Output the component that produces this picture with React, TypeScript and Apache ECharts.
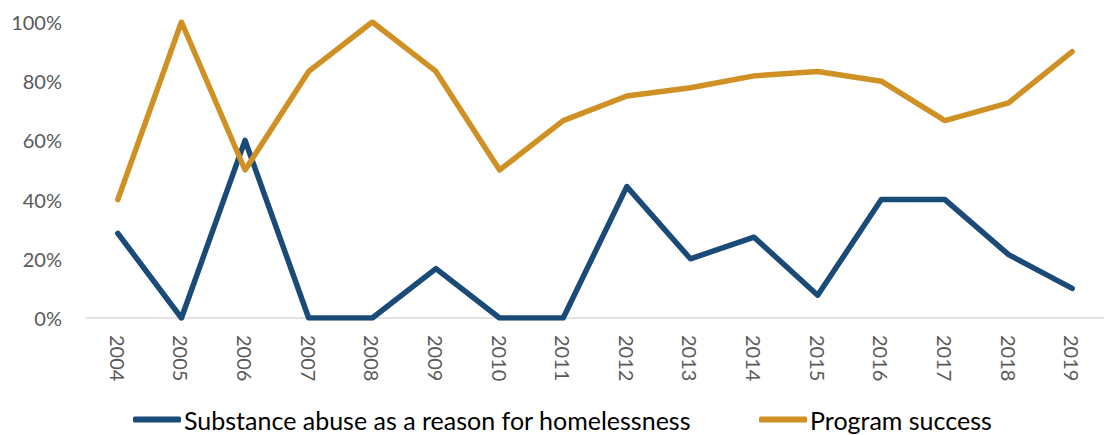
import React, { useEffect, useRef } from "react";
import * as echarts from "echarts";

const years = ["2004", "2005", "2006", "2007", "2008", "2009", "2010", "2011", "2012", "2013", "2014", "2015", "2016", "2017", "2018", "2019"];
const substanceAbuse = [28.6, 0, 60, 0, 0, 16.7, 0, 0, 44.4, 20, 27.3, 7.7, 40, 40, 21.4, 10];
const programSuccess = [40, 100, 50, 83.3, 100, 83.3, 50, 66.7, 75, 77.8, 81.8, 83.3, 80, 66.7, 72.7, 90];
const yTicks = [0, 20, 40, 60, 80, 100];

const FONT = "Lato";

export default function App() {
  const ref = useRef<HTMLDivElement>(null);
  useEffect(() => {
    if (!ref.current) return;
    const chart = echarts.init(ref.current, undefined, { renderer: "svg" });
    chart.setOption({
      animation: false,
      backgroundColor: "#ffffff",
      textStyle: { fontFamily: FONT },
      grid: { left: 86, top: 22, width: 1021, bottom: 117, containLabel: false },
      legend: {
        bottom: 3,
        left: 133,
        padding: 0,
        itemWidth: 48,
        itemHeight: 6,
        itemGap: 68,
        icon: "roundRect",
        textStyle: { fontFamily: FONT, fontSize: 25, color: "#000000", padding: [0, 0, 0, -2] },
        data: ["Substance abuse as a reason for homelessness", "Program success"],
      },
      xAxis: {
        type: "category",
        data: years,
        boundaryGap: true,
        axisLine: { show: true, lineStyle: { color: "#d9d9d9", width: 1.5 } },
        axisTick: { show: false },
        axisLabel: { rotate: -90, margin: 17, fontSize: 20, color: "#595959", fontFamily: FONT },
      },
      yAxis: {
        type: "value",
        min: yTicks[0],
        max: yTicks[yTicks.length - 1],
        interval: 20,
        splitLine: { show: false },
        axisLine: { show: false },
        axisTick: { show: false },
        axisLabel: { margin: 24, fontSize: 20, color: "#595959", fontFamily: FONT, formatter: (v: number) => v + "%" },
      },
      series: [
        {
          name: "Substance abuse as a reason for homelessness",
          type: "line",
          data: substanceAbuse,
          symbol: "none",
          color: "#1a4a78",
          lineStyle: { width: 5.5, color: "#1a4a78", cap: "round", join: "round" },
        },
        {
          name: "Program success",
          type: "line",
          data: programSuccess,
          symbol: "none",
          color: "#cf9124",
          lineStyle: { width: 5.5, color: "#cf9124", cap: "round", join: "round" },
        },
      ],
    });
    return () => chart.dispose();
  }, []);
  return <div ref={ref} style={{ position: "fixed", left: 0, top: 0, width: 1104, height: 435 }} />;
}
